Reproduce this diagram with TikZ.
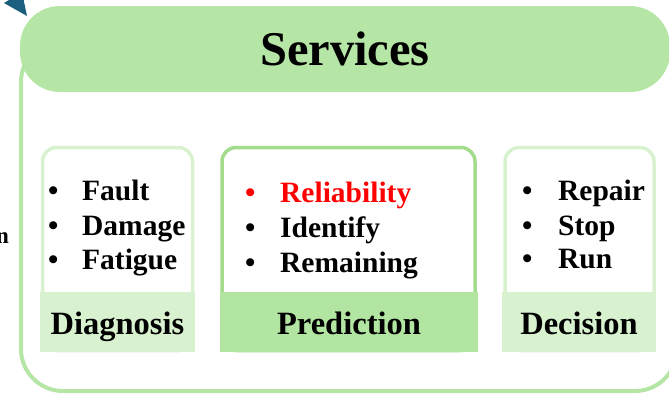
\documentclass[tikz,border=0pt]{standalone}
\usepackage{fontspec}
\setmainfont{Liberation Serif}
\usepackage{xcolor}
\usetikzlibrary{positioning}

\definecolor{headgreen}{HTML}{B5E6A5}
\definecolor{palegreen}{HTML}{D8F2D0}
\definecolor{midgreen}{HTML}{B3E5A2}
\definecolor{edgegreen}{HTML}{A2DC8C}
\definecolor{arrowblue}{HTML}{1B5E7E}

\begin{document}
\begin{tikzpicture}
      [ x=1pt, y=-1pt,
        frame/.style={draw=headgreen, line width=4pt, rounded corners=42pt},
        header/.style={fill=headgreen, rounded corners=40pt, minimum width=650pt,
          minimum height=86pt, inner sep=0pt, font=\fontsize{48.5}{54}\selectfont\bfseries},
        panel/.style={draw=#1, line width=3.5pt, rounded corners=14pt,
          minimum height=203pt, inner sep=0pt},
        band/.style={fill=#1, minimum height=60pt, inner sep=0pt,
          text height=26pt, text depth=0pt, font=\fontsize{32.5}{38}\selectfont\bfseries},
        entry/.style={anchor=base west, inner sep=0pt, font=\fontsize{29.5}{35}\selectfont\bfseries}
      ]
      \useasboundingbox (0,0) rectangle (669,394);

      % outer container and its title bar
      \draw[frame] (21,40) rectangle (677,391);
      \node[header]   (title)    at (345,49)     {Services};
      \fill[arrowblue] (4,3) -- (27,16) -- (22,-8) -- cycle;
      \node[entry, anchor=base east, font=\fontsize{23}{28}\selectfont\bfseries]
                      (cut)      at (9,243)      {n};

      % three service panels
      \node[panel=palegreen, minimum width=150pt] (diag) at (117.5,249)   {};
      \node[panel=edgegreen, minimum width=253pt] (pred) at (348.5,249)   {};
      \node[panel=palegreen, minimum width=149pt] (deci) at (579.5,249)   {};

      \node[band=palegreen, minimum width=155pt, anchor=south] (diaglabel) at (117.5,352) {Diagnosis};
      \node[band=midgreen,  minimum width=258pt, anchor=south] (predlabel) at (349,352)   {Prediction};
      \node[band=palegreen, minimum width=154pt, anchor=south] (decilabel) at (579,352)   {Decision};

      % bullet items
      \node[entry] (fault)   at (48,200)  {\makebox[34pt][l]{\textbullet}Fault};
      \node[entry] (damage)  at (48,235)  {\makebox[34pt][l]{\textbullet}Damage};
      \node[entry] (fatigue) at (48,269)  {\makebox[34pt][l]{\textbullet}Fatigue};

      \node[entry, red] (reliab) at (245,202) {\makebox[35pt][l]{\textbullet}Reliability};
      \node[entry] (identify)    at (245,237) {\makebox[35pt][l]{\textbullet}Identify};
      \node[entry] (remaining)   at (245,272) {\makebox[35pt][l]{\textbullet}Remaining};

      \node[entry] (repair)  at (522,200)  {\makebox[36pt][l]{\textbullet}Repair};
      \node[entry] (stop)    at (522,235)  {\makebox[36pt][l]{\textbullet}Stop};
      \node[entry] (run)     at (522,268)  {\makebox[36pt][l]{\textbullet}Run};
\end{tikzpicture}
\end{document}
